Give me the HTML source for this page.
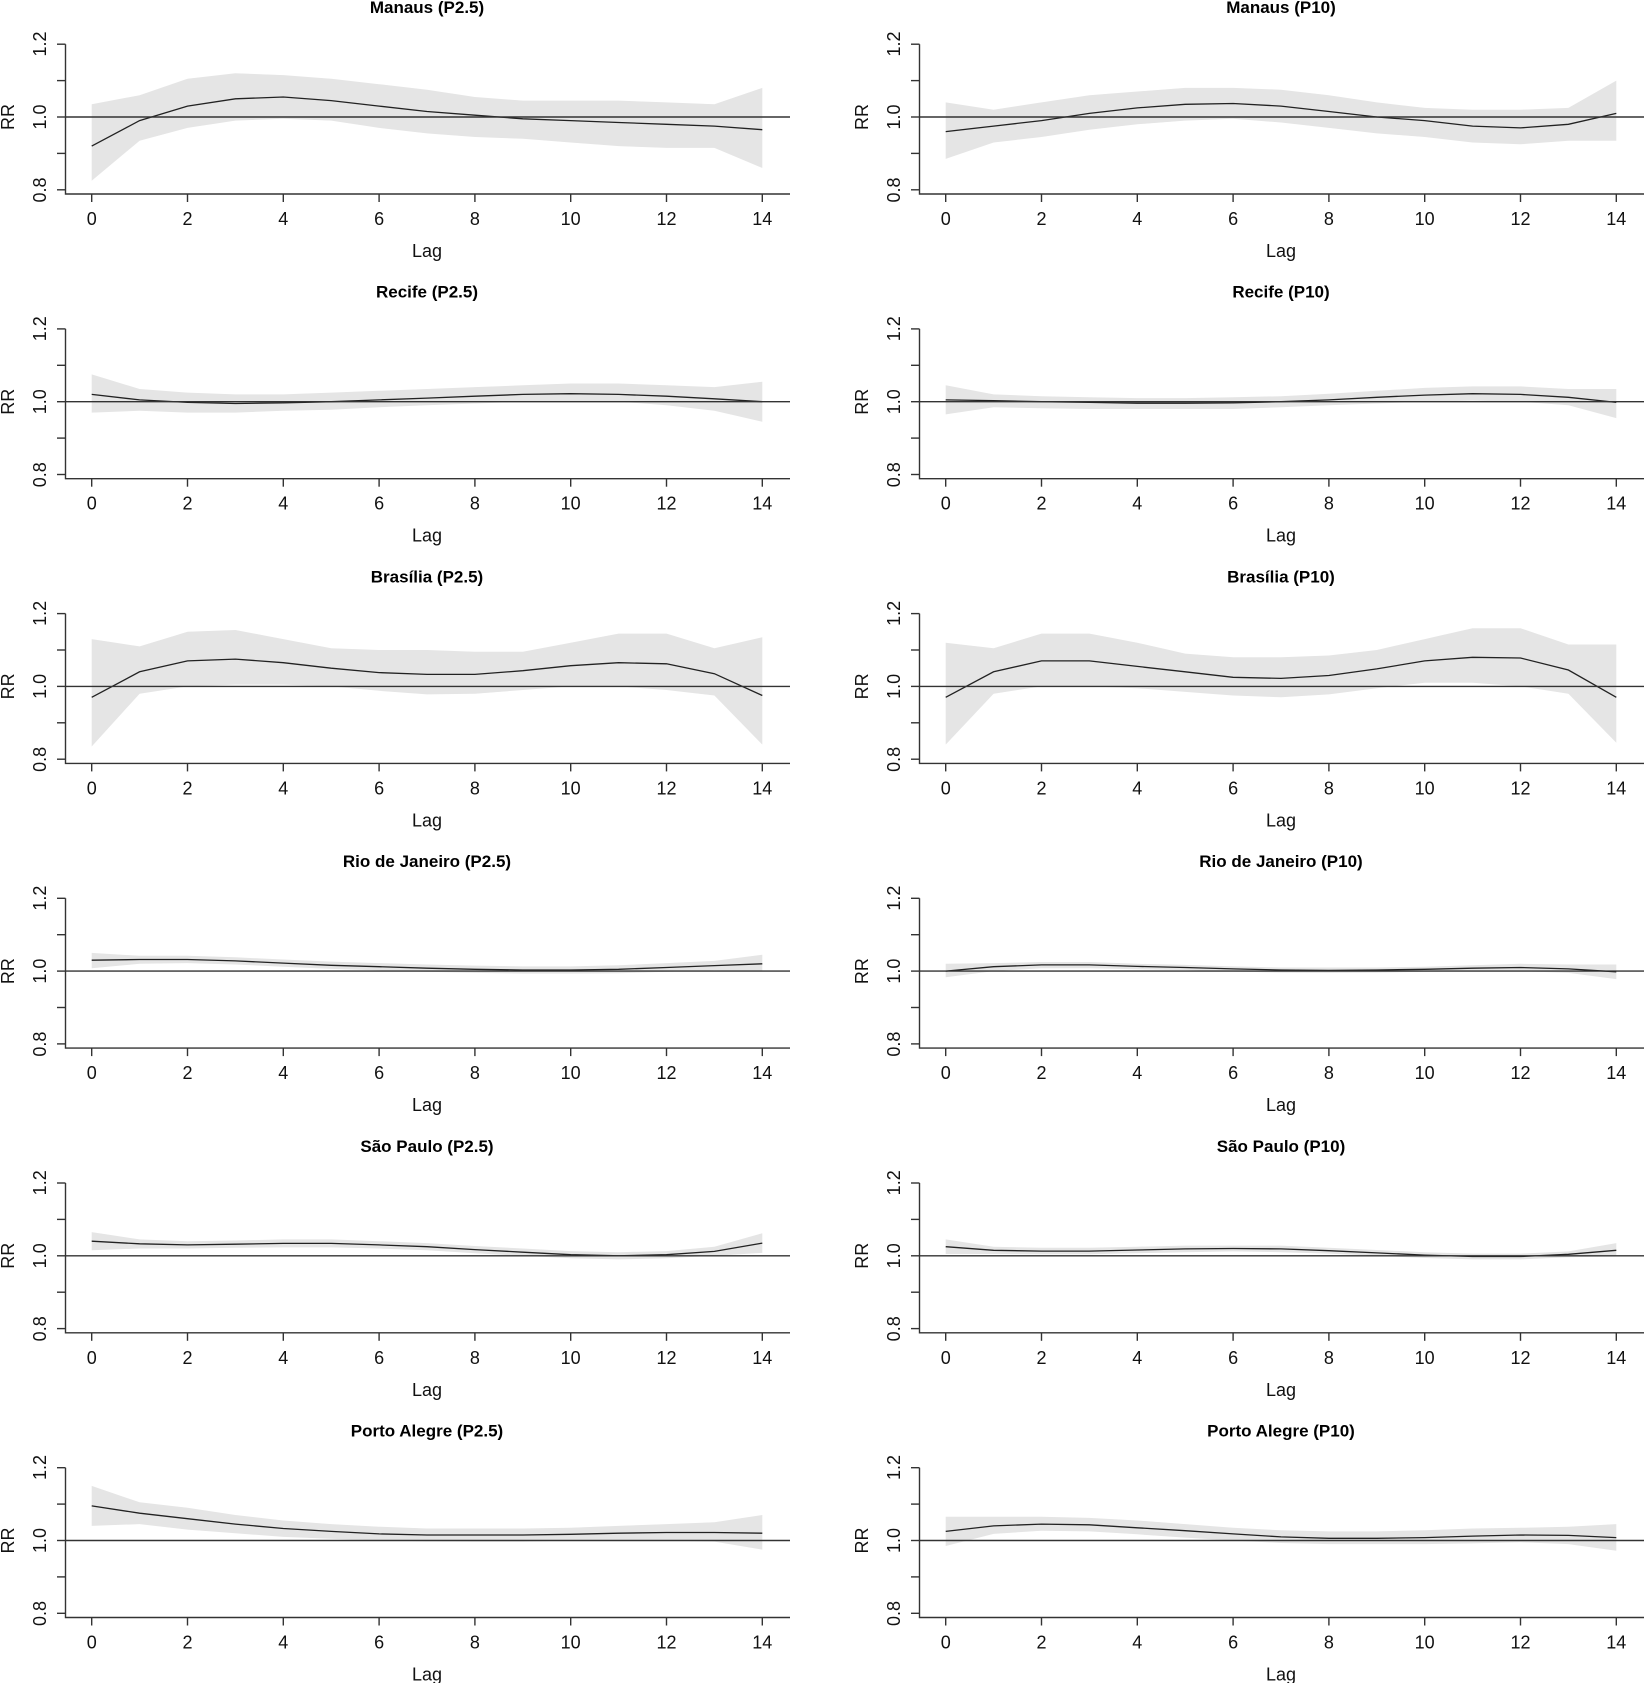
<!DOCTYPE html>
<html><head><meta charset="utf-8"><style>
html,body{margin:0;padding:0;background:#fff;}
svg{display:block;font-family:"Liberation Sans",Arial,sans-serif;}
.t{font-weight:bold;font-size:17px;text-anchor:middle;}
.n{font-size:18px;text-anchor:middle;fill:#111;}
.l{font-size:18px;text-anchor:middle;fill:#111;}
</style></head><body>
<svg id="s" width="1645" height="1683" viewBox="0 0 1645 1683" xmlns="http://www.w3.org/2000/svg">
<g id="shapes"></g>
<g transform="translate(0,0)"><text class="t" x="427" y="13">Manaus (P2.5)</text><text class="l" x="427" y="257">Lag</text><text class="l" transform="translate(14,117) rotate(-90)">RR</text><text class="n" transform="translate(46,44) rotate(-90)">1.2</text><text class="n" transform="translate(46,117) rotate(-90)">1.0</text><text class="n" transform="translate(46,190) rotate(-90)">0.8</text><text class="n" x="91.7" y="225">0</text><text class="n" x="187.5" y="225">2</text><text class="n" x="283.3" y="225">4</text><text class="n" x="379.1" y="225">6</text><text class="n" x="474.9" y="225">8</text><text class="n" x="570.7" y="225">10</text><text class="n" x="666.5" y="225">12</text><text class="n" x="762.3" y="225">14</text></g>
<g transform="translate(854,0)"><text class="t" x="427" y="13">Manaus (P10)</text><text class="l" x="427" y="257">Lag</text><text class="l" transform="translate(14,117) rotate(-90)">RR</text><text class="n" transform="translate(46,44) rotate(-90)">1.2</text><text class="n" transform="translate(46,117) rotate(-90)">1.0</text><text class="n" transform="translate(46,190) rotate(-90)">0.8</text><text class="n" x="91.7" y="225">0</text><text class="n" x="187.5" y="225">2</text><text class="n" x="283.3" y="225">4</text><text class="n" x="379.1" y="225">6</text><text class="n" x="474.9" y="225">8</text><text class="n" x="570.7" y="225">10</text><text class="n" x="666.5" y="225">12</text><text class="n" x="762.3" y="225">14</text></g>
<g transform="translate(0,284.7)"><text class="t" x="427" y="13">Recife (P2.5)</text><text class="l" x="427" y="257">Lag</text><text class="l" transform="translate(14,117) rotate(-90)">RR</text><text class="n" transform="translate(46,44) rotate(-90)">1.2</text><text class="n" transform="translate(46,117) rotate(-90)">1.0</text><text class="n" transform="translate(46,190) rotate(-90)">0.8</text><text class="n" x="91.7" y="225">0</text><text class="n" x="187.5" y="225">2</text><text class="n" x="283.3" y="225">4</text><text class="n" x="379.1" y="225">6</text><text class="n" x="474.9" y="225">8</text><text class="n" x="570.7" y="225">10</text><text class="n" x="666.5" y="225">12</text><text class="n" x="762.3" y="225">14</text></g>
<g transform="translate(854,284.7)"><text class="t" x="427" y="13">Recife (P10)</text><text class="l" x="427" y="257">Lag</text><text class="l" transform="translate(14,117) rotate(-90)">RR</text><text class="n" transform="translate(46,44) rotate(-90)">1.2</text><text class="n" transform="translate(46,117) rotate(-90)">1.0</text><text class="n" transform="translate(46,190) rotate(-90)">0.8</text><text class="n" x="91.7" y="225">0</text><text class="n" x="187.5" y="225">2</text><text class="n" x="283.3" y="225">4</text><text class="n" x="379.1" y="225">6</text><text class="n" x="474.9" y="225">8</text><text class="n" x="570.7" y="225">10</text><text class="n" x="666.5" y="225">12</text><text class="n" x="762.3" y="225">14</text></g>
<g transform="translate(0,569.4)"><text class="t" x="427" y="13">Brasília (P2.5)</text><text class="l" x="427" y="257">Lag</text><text class="l" transform="translate(14,117) rotate(-90)">RR</text><text class="n" transform="translate(46,44) rotate(-90)">1.2</text><text class="n" transform="translate(46,117) rotate(-90)">1.0</text><text class="n" transform="translate(46,190) rotate(-90)">0.8</text><text class="n" x="91.7" y="225">0</text><text class="n" x="187.5" y="225">2</text><text class="n" x="283.3" y="225">4</text><text class="n" x="379.1" y="225">6</text><text class="n" x="474.9" y="225">8</text><text class="n" x="570.7" y="225">10</text><text class="n" x="666.5" y="225">12</text><text class="n" x="762.3" y="225">14</text></g>
<g transform="translate(854,569.4)"><text class="t" x="427" y="13">Brasília (P10)</text><text class="l" x="427" y="257">Lag</text><text class="l" transform="translate(14,117) rotate(-90)">RR</text><text class="n" transform="translate(46,44) rotate(-90)">1.2</text><text class="n" transform="translate(46,117) rotate(-90)">1.0</text><text class="n" transform="translate(46,190) rotate(-90)">0.8</text><text class="n" x="91.7" y="225">0</text><text class="n" x="187.5" y="225">2</text><text class="n" x="283.3" y="225">4</text><text class="n" x="379.1" y="225">6</text><text class="n" x="474.9" y="225">8</text><text class="n" x="570.7" y="225">10</text><text class="n" x="666.5" y="225">12</text><text class="n" x="762.3" y="225">14</text></g>
<g transform="translate(0,854.1)"><text class="t" x="427" y="13">Rio de Janeiro (P2.5)</text><text class="l" x="427" y="257">Lag</text><text class="l" transform="translate(14,117) rotate(-90)">RR</text><text class="n" transform="translate(46,44) rotate(-90)">1.2</text><text class="n" transform="translate(46,117) rotate(-90)">1.0</text><text class="n" transform="translate(46,190) rotate(-90)">0.8</text><text class="n" x="91.7" y="225">0</text><text class="n" x="187.5" y="225">2</text><text class="n" x="283.3" y="225">4</text><text class="n" x="379.1" y="225">6</text><text class="n" x="474.9" y="225">8</text><text class="n" x="570.7" y="225">10</text><text class="n" x="666.5" y="225">12</text><text class="n" x="762.3" y="225">14</text></g>
<g transform="translate(854,854.1)"><text class="t" x="427" y="13">Rio de Janeiro (P10)</text><text class="l" x="427" y="257">Lag</text><text class="l" transform="translate(14,117) rotate(-90)">RR</text><text class="n" transform="translate(46,44) rotate(-90)">1.2</text><text class="n" transform="translate(46,117) rotate(-90)">1.0</text><text class="n" transform="translate(46,190) rotate(-90)">0.8</text><text class="n" x="91.7" y="225">0</text><text class="n" x="187.5" y="225">2</text><text class="n" x="283.3" y="225">4</text><text class="n" x="379.1" y="225">6</text><text class="n" x="474.9" y="225">8</text><text class="n" x="570.7" y="225">10</text><text class="n" x="666.5" y="225">12</text><text class="n" x="762.3" y="225">14</text></g>
<g transform="translate(0,1138.8)"><text class="t" x="427" y="13">São Paulo (P2.5)</text><text class="l" x="427" y="257">Lag</text><text class="l" transform="translate(14,117) rotate(-90)">RR</text><text class="n" transform="translate(46,44) rotate(-90)">1.2</text><text class="n" transform="translate(46,117) rotate(-90)">1.0</text><text class="n" transform="translate(46,190) rotate(-90)">0.8</text><text class="n" x="91.7" y="225">0</text><text class="n" x="187.5" y="225">2</text><text class="n" x="283.3" y="225">4</text><text class="n" x="379.1" y="225">6</text><text class="n" x="474.9" y="225">8</text><text class="n" x="570.7" y="225">10</text><text class="n" x="666.5" y="225">12</text><text class="n" x="762.3" y="225">14</text></g>
<g transform="translate(854,1138.8)"><text class="t" x="427" y="13">São Paulo (P10)</text><text class="l" x="427" y="257">Lag</text><text class="l" transform="translate(14,117) rotate(-90)">RR</text><text class="n" transform="translate(46,44) rotate(-90)">1.2</text><text class="n" transform="translate(46,117) rotate(-90)">1.0</text><text class="n" transform="translate(46,190) rotate(-90)">0.8</text><text class="n" x="91.7" y="225">0</text><text class="n" x="187.5" y="225">2</text><text class="n" x="283.3" y="225">4</text><text class="n" x="379.1" y="225">6</text><text class="n" x="474.9" y="225">8</text><text class="n" x="570.7" y="225">10</text><text class="n" x="666.5" y="225">12</text><text class="n" x="762.3" y="225">14</text></g>
<g transform="translate(0,1423.5)"><text class="t" x="427" y="13">Porto Alegre (P2.5)</text><text class="l" x="427" y="257">Lag</text><text class="l" transform="translate(14,117) rotate(-90)">RR</text><text class="n" transform="translate(46,44) rotate(-90)">1.2</text><text class="n" transform="translate(46,117) rotate(-90)">1.0</text><text class="n" transform="translate(46,190) rotate(-90)">0.8</text><text class="n" x="91.7" y="225">0</text><text class="n" x="187.5" y="225">2</text><text class="n" x="283.3" y="225">4</text><text class="n" x="379.1" y="225">6</text><text class="n" x="474.9" y="225">8</text><text class="n" x="570.7" y="225">10</text><text class="n" x="666.5" y="225">12</text><text class="n" x="762.3" y="225">14</text></g>
<g transform="translate(854,1423.5)"><text class="t" x="427" y="13">Porto Alegre (P10)</text><text class="l" x="427" y="257">Lag</text><text class="l" transform="translate(14,117) rotate(-90)">RR</text><text class="n" transform="translate(46,44) rotate(-90)">1.2</text><text class="n" transform="translate(46,117) rotate(-90)">1.0</text><text class="n" transform="translate(46,190) rotate(-90)">0.8</text><text class="n" x="91.7" y="225">0</text><text class="n" x="187.5" y="225">2</text><text class="n" x="283.3" y="225">4</text><text class="n" x="379.1" y="225">6</text><text class="n" x="474.9" y="225">8</text><text class="n" x="570.7" y="225">10</text><text class="n" x="666.5" y="225">12</text><text class="n" x="762.3" y="225">14</text></g>
</svg>
<script>
var P=[
[[0.92,0.99,1.03,1.05,1.055,1.045,1.03,1.015,1.005,0.995,0.99,0.985,0.98,0.975,0.965],[1.035,1.06,1.105,1.12,1.115,1.105,1.09,1.075,1.055,1.045,1.045,1.045,1.04,1.035,1.08],[0.825,0.935,0.97,0.99,0.995,0.99,0.97,0.955,0.945,0.94,0.93,0.92,0.915,0.915,0.86]],
[[0.96,0.975,0.99,1.01,1.025,1.035,1.037,1.03,1.015,1.0,0.99,0.975,0.97,0.98,1.01],[1.04,1.02,1.04,1.06,1.07,1.08,1.08,1.075,1.06,1.04,1.025,1.02,1.02,1.025,1.10],[0.885,0.93,0.945,0.965,0.98,0.99,0.995,0.985,0.97,0.955,0.945,0.93,0.925,0.935,0.935]],
[[1.02,1.005,0.998,0.995,0.997,1.0,1.005,1.01,1.015,1.02,1.022,1.02,1.015,1.008,1.0],[1.075,1.035,1.025,1.02,1.02,1.025,1.03,1.035,1.04,1.045,1.05,1.05,1.045,1.04,1.055],[0.97,0.975,0.97,0.97,0.975,0.978,0.985,0.99,0.995,1.0,1.0,1.0,0.99,0.975,0.945]],
[[1.005,1.003,1.0,0.998,0.996,0.996,0.997,1.0,1.005,1.012,1.018,1.022,1.02,1.012,0.998],[1.045,1.02,1.015,1.012,1.01,1.01,1.012,1.015,1.022,1.03,1.038,1.042,1.042,1.035,1.035],[0.965,0.985,0.982,0.98,0.98,0.98,0.98,0.985,0.99,0.995,1.0,1.003,1.0,0.99,0.955]],
[[0.97,1.04,1.07,1.075,1.065,1.05,1.038,1.033,1.033,1.043,1.057,1.065,1.062,1.035,0.975],[1.13,1.11,1.15,1.155,1.13,1.105,1.1,1.1,1.095,1.095,1.12,1.145,1.145,1.105,1.135],[0.835,0.98,1.0,1.005,1.005,1.0,0.988,0.978,0.98,0.99,1.0,1.0,0.99,0.975,0.84]],
[[0.97,1.04,1.07,1.07,1.055,1.04,1.025,1.022,1.03,1.048,1.07,1.08,1.078,1.045,0.97],[1.12,1.105,1.145,1.145,1.12,1.09,1.08,1.08,1.085,1.1,1.13,1.16,1.16,1.115,1.115],[0.84,0.98,1.0,1.0,0.995,0.985,0.975,0.97,0.978,0.995,1.01,1.01,1.0,0.98,0.845]],
[[1.03,1.032,1.032,1.028,1.022,1.016,1.012,1.008,1.005,1.003,1.003,1.005,1.01,1.015,1.02],[1.05,1.042,1.042,1.038,1.032,1.026,1.022,1.018,1.015,1.013,1.013,1.016,1.022,1.028,1.045],[1.008,1.02,1.022,1.018,1.012,1.006,1.002,0.998,0.995,0.993,0.993,0.994,0.998,1.002,1.0]],
[[1.0,1.012,1.017,1.017,1.013,1.01,1.006,1.003,1.002,1.003,1.005,1.008,1.01,1.006,0.998],[1.02,1.022,1.025,1.025,1.02,1.017,1.013,1.01,1.01,1.01,1.012,1.016,1.02,1.018,1.018],[0.983,1.0,1.008,1.008,1.005,1.003,0.999,0.996,0.995,0.996,0.998,1.0,1.0,0.995,0.978]],
[[1.04,1.033,1.03,1.032,1.034,1.034,1.03,1.025,1.017,1.01,1.003,1.0,1.003,1.012,1.035],[1.065,1.045,1.04,1.042,1.045,1.045,1.04,1.035,1.027,1.02,1.013,1.01,1.013,1.025,1.062],[1.015,1.02,1.02,1.022,1.023,1.023,1.02,1.015,1.007,1.0,0.993,0.99,0.993,1.0,1.008]],
[[1.025,1.015,1.013,1.013,1.016,1.019,1.02,1.019,1.014,1.008,1.002,0.998,0.998,1.004,1.015],[1.045,1.025,1.022,1.022,1.025,1.028,1.028,1.028,1.022,1.016,1.01,1.006,1.006,1.012,1.035],[1.005,1.005,1.004,1.004,1.007,1.01,1.012,1.01,1.006,1.0,0.994,0.99,0.99,0.996,0.998]],
[[1.095,1.075,1.06,1.045,1.033,1.025,1.018,1.015,1.015,1.015,1.017,1.02,1.022,1.022,1.02],[1.15,1.105,1.09,1.07,1.055,1.045,1.038,1.033,1.033,1.033,1.035,1.04,1.045,1.05,1.07],[1.04,1.045,1.03,1.02,1.01,1.005,1.0,0.998,0.997,0.997,1.0,1.0,1.0,0.997,0.975]],
[[1.025,1.04,1.045,1.043,1.035,1.027,1.018,1.01,1.006,1.006,1.008,1.012,1.015,1.014,1.008],[1.065,1.065,1.065,1.062,1.055,1.045,1.035,1.028,1.025,1.025,1.028,1.033,1.035,1.038,1.045],[0.985,1.018,1.027,1.025,1.017,1.008,1.0,0.993,0.99,0.99,0.99,0.992,0.995,0.99,0.972]]
];
var h='';
for(var i=0;i<12;i++){
 var ox=(i%2)*854, oy=Math.floor(i/2)*284.7;
 var X=function(l){return (ox+91.7+47.9*l).toFixed(1)}, Y=function(v){return (oy+117-(v-1)*364).toFixed(1)};
 var d=P[i], pts=[];
 for(var l=0;l<15;l++)pts.push(X(l)+','+Y(d[1][l]));
 for(var l=14;l>=0;l--)pts.push(X(l)+','+Y(d[2][l]));
 h+='<polygon points="'+pts.join(' ')+'" fill="#e5e5e5"/>';
 var m=[];for(var l=0;l<15;l++)m.push(X(l)+','+Y(d[0][l]));
 h+='<polyline points="'+m.join(' ')+'" fill="none" stroke="#222" stroke-width="1.3"/>';
 h+='<line x1="'+(ox+65.5)+'" x2="'+(ox+790)+'" y1="'+Y(1)+'" y2="'+Y(1)+'" stroke="#333" stroke-width="1.4"/>';
 var ay=(oy+194).toFixed(1);
 h+='<path d="M'+(ox+65.5)+','+Y(1.2)+'V'+ay+'H'+(ox+790)+'" fill="none" stroke="#333" stroke-width="1.4"/>';
 for(var v=0.8;v<1.21;v+=0.1)h+='<line x1="'+(ox+57)+'" x2="'+(ox+65.5)+'" y1="'+Y(v)+'" y2="'+Y(v)+'" stroke="#333" stroke-width="1.4"/>';
 for(var l=0;l<=14;l+=2)h+='<line x1="'+X(l)+'" x2="'+X(l)+'" y1="'+ay+'" y2="'+(oy+202)+'" stroke="#333" stroke-width="1.4"/>';
}
document.getElementById('shapes').innerHTML=h;
</script>
</body></html>
